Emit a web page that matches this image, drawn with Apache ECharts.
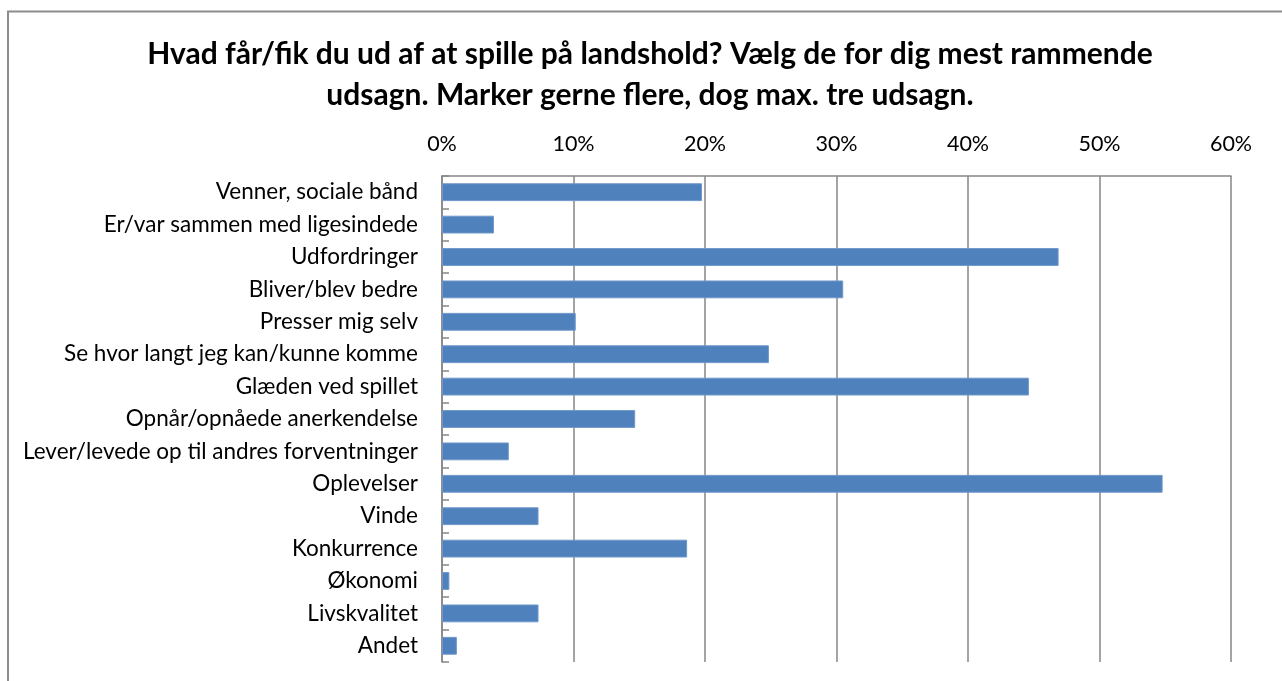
<!DOCTYPE html>
<html>
<head>
<meta charset="utf-8">
<script src="https://cdn.jsdelivr.net/npm/echarts@6/dist/echarts.min.js"></script>
<style>
  html, body { margin: 0; padding: 0; background: #fff; }
  #chart { width: 1282px; height: 681px; }
</style>
</head>
<body>
<div id="chart"></div>
<script>
// Survey answers, listed top to bottom as shown
const categories = [
  'Venner, sociale bånd',
  'Er/var sammen med ligesindede',
  'Udfordringer',
  'Bliver/blev bedre',
  'Presser mig selv',
  'Se hvor langt jeg kan/kunne komme',
  'Glæden ved spillet',
  'Opnår/opnåede anerkendelse',
  'Lever/levede op til andres forventninger',
  'Oplevelser',
  'Vinde',
  'Konkurrence',
  'Økonomi',
  'Livskvalitet',
  'Andet'
];

// Share of respondents choosing each answer (%)
const shares = [19.77, 3.95, 46.89, 30.51, 10.17, 24.86, 44.63, 14.69, 5.08, 54.80, 7.34, 18.64, 0.56, 7.34, 1.13];

const axisTicks = [0, 10, 20, 30, 40, 50, 60];

const titleLines = [
  'Hvad får/fik du ud af at spille på landshold? Vælg de for dig mest rammende',
  'udsagn. Marker gerne flere, dog max. tre udsagn.'
];

const FONT = 'Lato, "Open Sans", sans-serif';
const GRID_COLOR = '#868686';

const chart = echarts.init(document.getElementById('chart'), null, { renderer: 'canvas' });

chart.setOption({
  backgroundColor: '#ffffff',
  animation: false,
  title: {
    text: titleLines.join('\n'),
    left: 645,
    top: 29,
    textAlign: 'center',
    textStyle: {
      fontFamily: FONT,
      fontWeight: 'bold',
      fontSize: 30,
      lineHeight: 41,
      color: '#000000'
    }
  },
  graphic: [{
    type: 'polyline',
    shape: { points: [[8, 700], [8, 11.5], [1290, 11.5]] },
    style: { stroke: '#8c8c8c', lineWidth: 2, fill: null },
    silent: true
  }],
  grid: {
    left: 442,
    right: 51,
    top: 176,
    bottom: 19,
    containLabel: false
  },
  xAxis: {
    type: 'value',
    position: 'top',
    min: axisTicks[0],
    max: axisTicks[axisTicks.length - 1],
    interval: 10,
    axisLine: { show: true, lineStyle: { color: GRID_COLOR, width: 1.5 } },
    axisTick: { show: false },
    splitLine: { show: true, lineStyle: { color: GRID_COLOR, width: 1.5 } },
    axisLabel: {
      formatter: '{value}%',
      fontFamily: FONT,
      fontSize: 21.5,
      color: '#000000',
      margin: 21
    }
  },
  yAxis: {
    type: 'category',
    data: categories,
    inverse: true,
    axisLine: { show: true, lineStyle: { color: GRID_COLOR, width: 1.5 } },
    axisTick: { show: true, inside: true, length: 7, lineStyle: { color: GRID_COLOR, width: 1.5 } },
    axisLabel: {
      fontFamily: FONT,
      fontSize: 22.5,
      color: '#000000',
      margin: 24
    }
  },
  series: [{
    type: 'bar',
    data: shares,
    barCategoryGap: '45%',
    itemStyle: {
      color: '#4f81bd',
      borderColor: '#6f97c9',
      borderWidth: 1
    }
  }]
});
</script>
</body>
</html>
